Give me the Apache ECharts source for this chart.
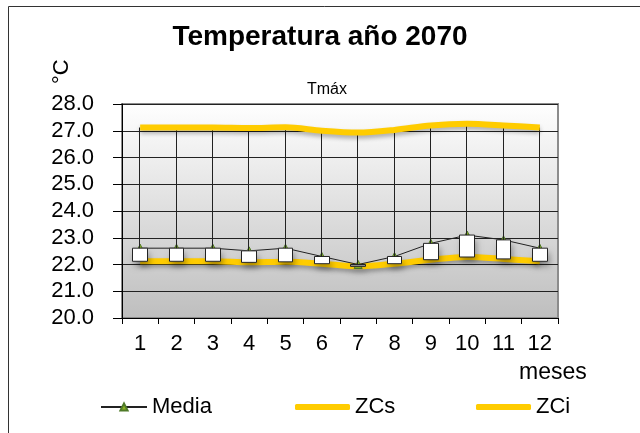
<!DOCTYPE html>
<html>
<head>
<meta charset="utf-8">
<script src="https://cdn.jsdelivr.net/npm/echarts@6/dist/echarts.min.js"></script>
<style>
  html, body { margin: 0; padding: 0; background: #fff; }
  #chart { width: 640px; height: 433px; }
</style>
</head>
<body>
<div id="chart"></div>
<script>
// datos
const meses = ['1', '2', '3', '4', '5', '6', '7', '8', '9', '10', '11', '12']
const media = [22.61, 22.61, 22.61, 22.51, 22.61, 22.3, 22.0, 22.3, 22.79, 23.1, 22.92, 22.61]
const zcs = [27.12, 27.12, 27.12, 27.1, 27.13, 27.0, 26.93, 27.03, 27.2, 27.26, 27.2, 27.12]
const zci = [22.12, 22.12, 22.12, 22.08, 22.1, 22.03, 21.93, 22.03, 22.18, 22.28, 22.21, 22.12]
const yTicks = [20, 21, 22, 23, 24, 25, 26, 27, 28]

const font = 'Liberation Sans, Arial, sans-serif'

// cajas entre Media y ZCi, lineas alto-bajo hasta ZCs
const velas = meses.map((m, i) => {
  const item = { value: [zci[i], media[i], Math.min(zci[i], media[i]), zcs[i]] }
  if (i === 6) item.itemStyle = { color: '#9c9c9c', borderColor: '#222' }
  return item
})
// solo las cajas, para la sombra
const sombras = meses.map((m, i) => [zci[i], media[i], zci[i], media[i]])

const legendText = { fontFamily: font, fontSize: 22, color: '#000' }

const chart = echarts.init(document.getElementById('chart'))

chart.setOption({
  animation: false,
  title: [
    {
      text: 'Temperatura año 2070',
      left: 'center',
      top: 18,
      textStyle: { fontFamily: font, fontSize: 28, fontWeight: 'bold', color: '#000' }
    },
    {
      text: 'Tmáx',
      left: 302,
      top: 77,
      textStyle: { fontFamily: font, fontSize: 16, fontWeight: 'normal', color: '#000' }
    }
  ],
  graphic: [
    {
      type: 'rect',
      shape: { x: 8.5, y: 6.5, width: 700, height: 500 },
      style: { fill: 'none', stroke: '#333', lineWidth: 1 },
      silent: true
    },
    {
      type: 'text',
      x: 51,
      y: 84,
      rotation: Math.PI / 2,
      style: { text: '°C', font: '22px ' + font, fill: '#000' }
    },
    {
      type: 'text',
      left: 519,
      top: 361,
      style: { text: 'meses', font: '23px ' + font, fill: '#000' }
    }
  ],
  legend: [
    {
      data: ['Media'],
      left: 100,
      top: 396,
      padding: 0,
      itemWidth: 46,
      itemHeight: 9,
      textStyle: legendText
    },
    {
      data: [{ name: 'ZCs', icon: 'roundRect' }],
      left: 295,
      top: 396,
      padding: 0,
      itemWidth: 55,
      itemHeight: 6,
      textStyle: legendText
    },
    {
      data: [{ name: 'ZCi', icon: 'roundRect' }],
      left: 476,
      top: 396,
      padding: 0,
      itemWidth: 55,
      itemHeight: 6,
      textStyle: legendText
    }
  ],
  grid: {
    left: 122,
    right: 82,
    top: 104,
    bottom: 115,
    show: true,
    borderColor: '#8c8c8c',
    borderWidth: 2,
    backgroundColor: {
      type: 'linear', x: 0, y: 0, x2: 0, y2: 1,
      colorStops: [
        { offset: 0, color: '#ffffff' },
        { offset: 1, color: '#bebebe' }
      ]
    }
  },
  xAxis: {
    type: 'category',
    data: meses,
    boundaryGap: true,
    axisLine: { lineStyle: { color: '#000', width: 1 } },
    axisTick: { show: true, length: 6, lineStyle: { color: '#000' } },
    axisLabel: { margin: 15, fontFamily: font, fontSize: 22, color: '#000' }
  },
  yAxis: {
    type: 'value',
    min: yTicks[0],
    max: yTicks[yTicks.length - 1],
    interval: 1,
    axisLine: { show: true, lineStyle: { color: '#000', width: 1 } },
    axisTick: { show: true, length: 9, lineStyle: { color: '#000' } },
    axisLabel: {
      margin: 28,
      fontFamily: font,
      fontSize: 22,
      color: '#000',
      formatter: v => v.toFixed(1)
    },
    splitLine: { show: true, lineStyle: { color: '#222', width: 1 } }
  },
  series: [
    {
      name: 'ZCi',
      type: 'line',
      data: zci,
      z: 1,
      smooth: 0.3,
      symbol: 'none',
      color: '#ffcc00',
      lineStyle: {
        color: '#ffcc00',
        width: 6,
        shadowColor: 'rgba(0,0,0,0.3)',
        shadowBlur: 4,
        shadowOffsetY: 3
      }
    },
    {
      name: 'Media',
      type: 'line',
      data: media,
      z: 2,
      symbol: 'triangle',
      symbolSize: 8,
      color: '#a8c820',
      itemStyle: { color: '#8cb020', borderColor: '#4f7a28', borderWidth: 1 },
      lineStyle: { color: '#222', width: 1 }
    },
    {
      name: 'sombra',
      type: 'candlestick',
      data: sombras,
      z: 3,
      barWidth: 15,
      silent: true,
      itemStyle: {
        color: '#ffffff',
        color0: '#ffffff',
        borderWidth: 0,
        borderColor: 'rgba(0,0,0,0)',
        borderColor0: 'rgba(0,0,0,0)',
        shadowColor: 'rgba(0,0,0,0.35)',
        shadowBlur: 6,
        shadowOffsetX: 2,
        shadowOffsetY: 5
      }
    },
    {
      name: 'cajas',
      type: 'candlestick',
      data: velas,
      z: 4,
      barWidth: 15,
      itemStyle: {
        color: '#ffffff',
        color0: '#9c9c9c',
        borderColor: '#222',
        borderColor0: '#222',
        borderWidth: 1
      }
    },
    {
      name: 'ZCs',
      type: 'line',
      data: zcs,
      z: 5,
      smooth: 0.3,
      symbol: 'none',
      color: '#ffcc00',
      lineStyle: {
        color: '#ffcc00',
        width: 6,
        shadowColor: 'rgba(0,0,0,0.3)',
        shadowBlur: 4,
        shadowOffsetY: 3
      }
    }
  ]
})
</script>
</body>
</html>
